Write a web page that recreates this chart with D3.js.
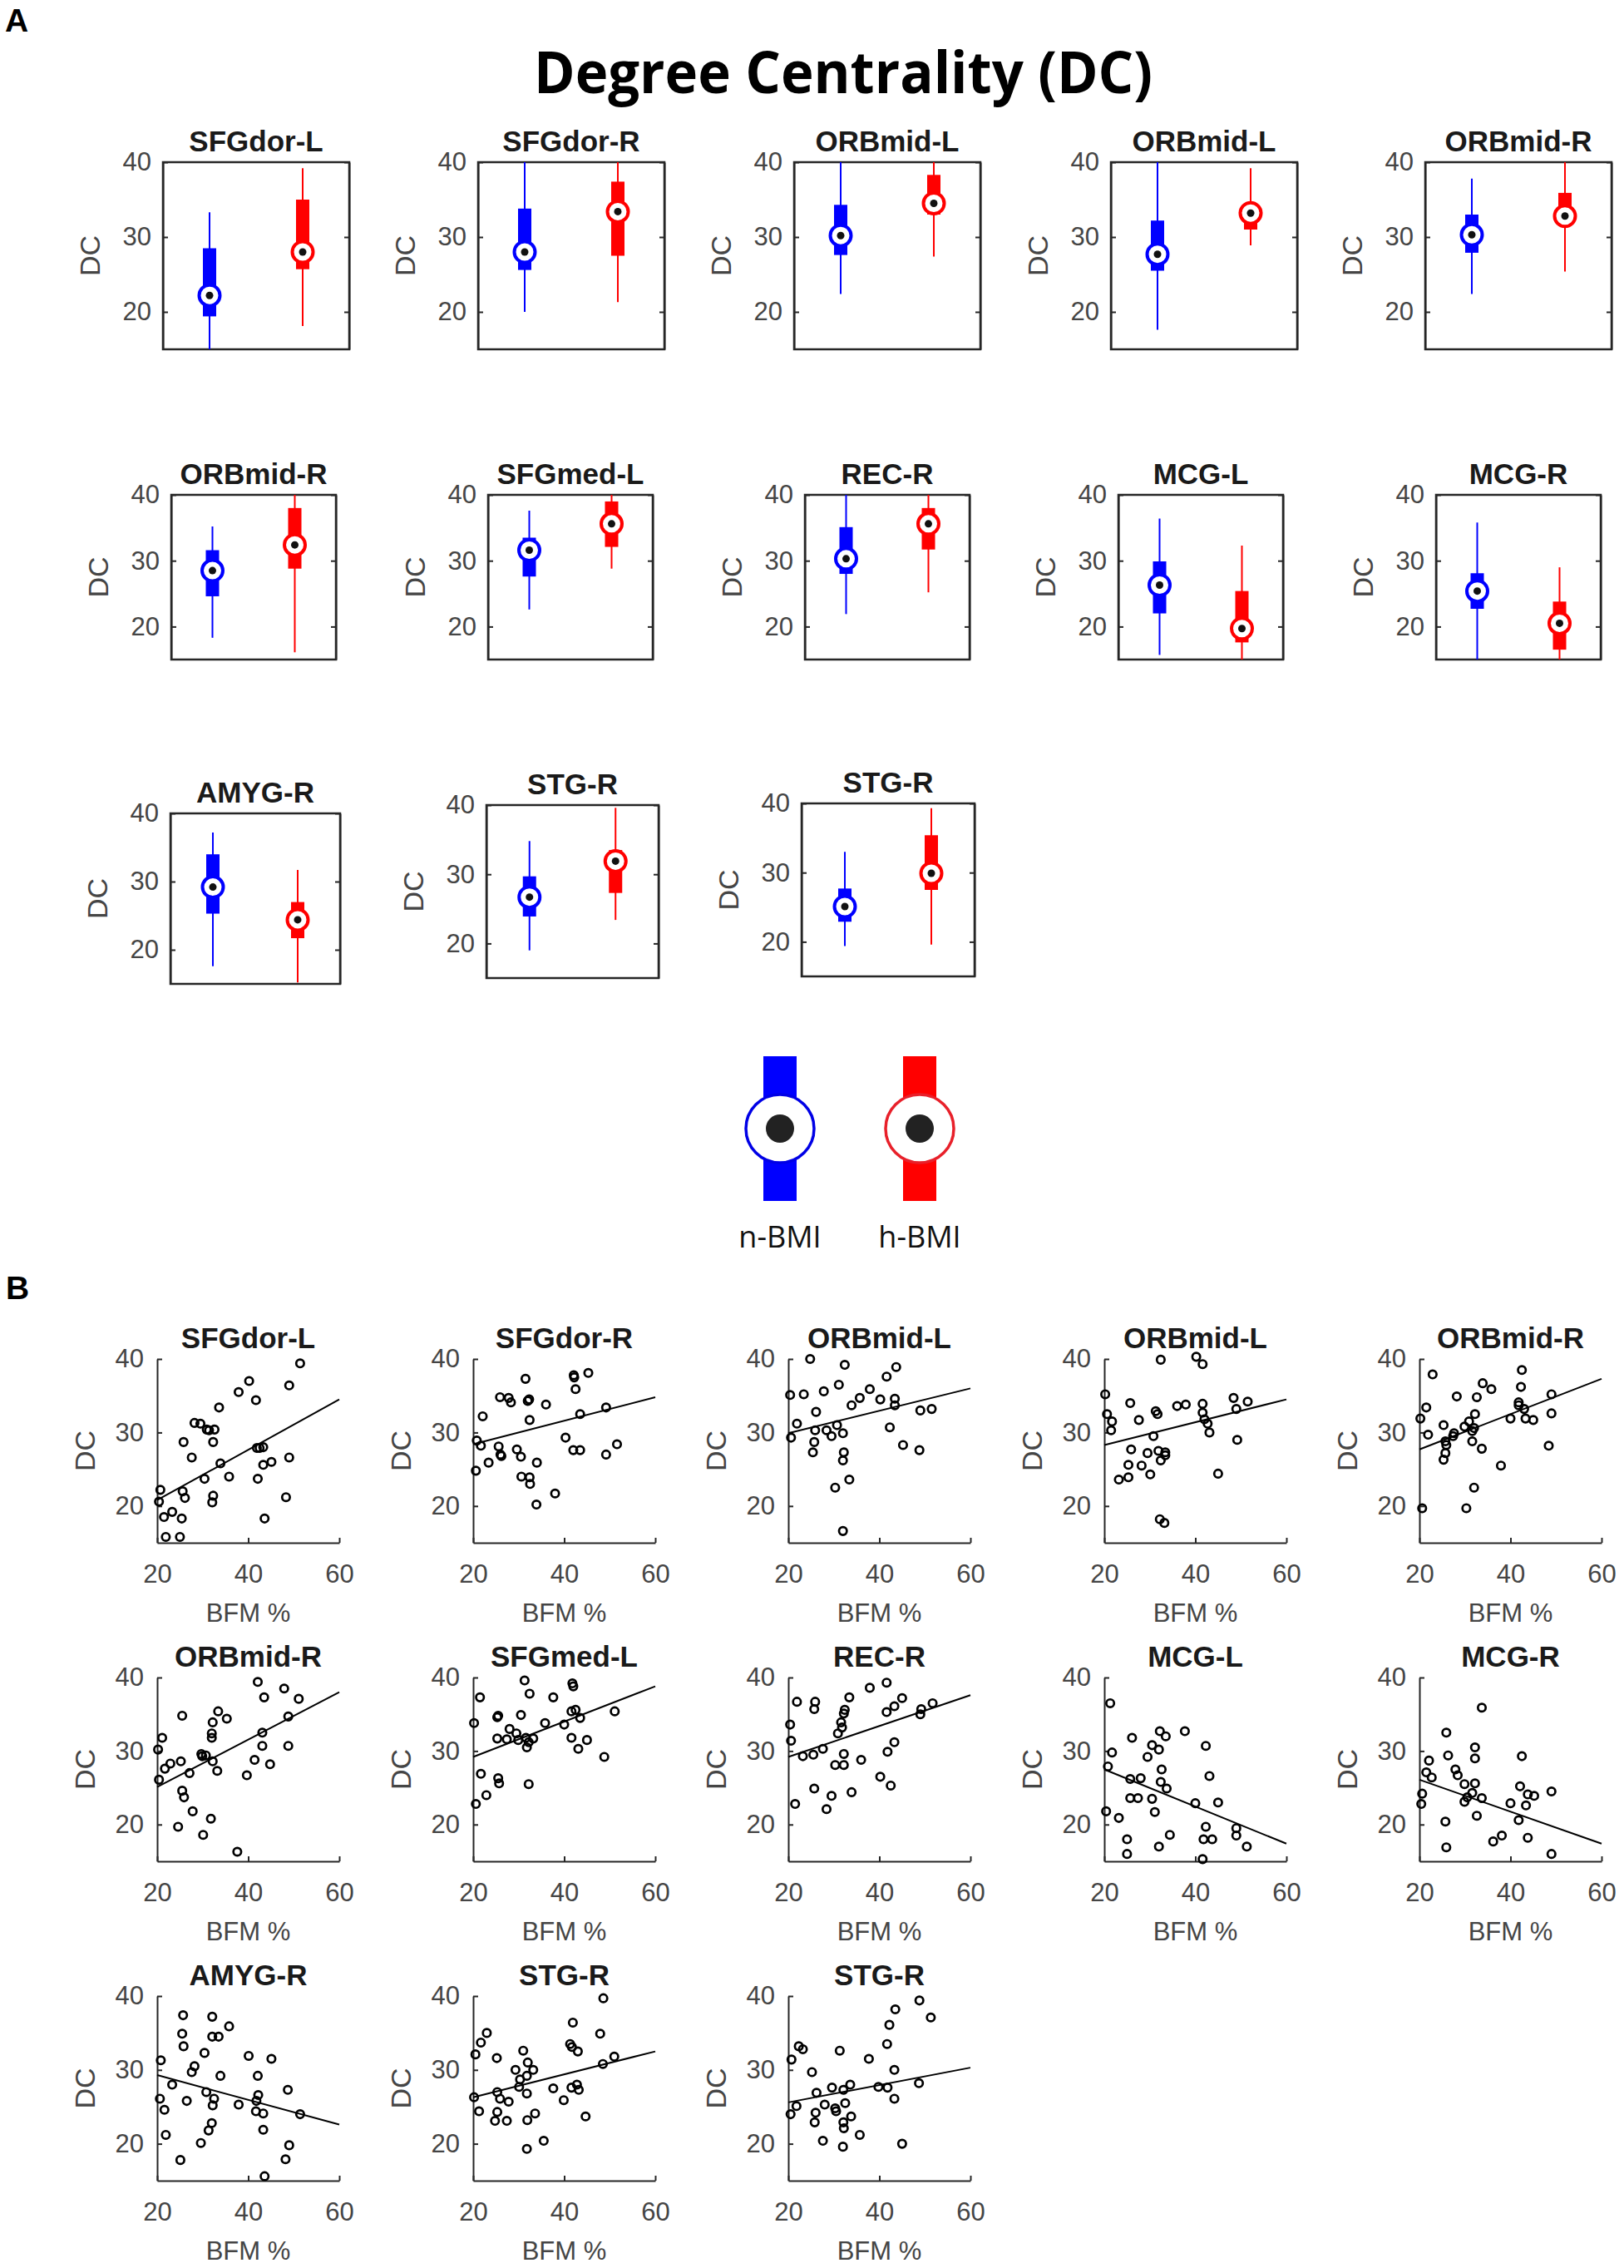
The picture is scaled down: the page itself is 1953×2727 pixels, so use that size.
<!DOCTYPE html>
<html>
<head>
<meta charset="utf-8">
<script src="https://cdn.jsdelivr.net/npm/d3@7"></script>
<style>
  body { margin: 0; background: #fff; }
</style>
</head>
<body>
<svg id="fig" width="1953" height="2727"></svg>
<script>
// region names, same order for the box panels (A) and the scatter panels (B)
const regions = ["SFGdor-L", "SFGdor-R", "ORBmid-L", "ORBmid-L", "ORBmid-R",
  "ORBmid-R", "SFGmed-L", "REC-R", "MCG-L", "MCG-R",
  "AMYG-R", "STG-R", "STG-R"];

const groups = ["n-BMI", "h-BMI"];
const groupColors = ["#0000ff", "#ff0000"];

// box stats: [lower whisker, q1, median, q3, upper whisker]
const nBmiBox = [
  [15.0, 19.4, 22.2, 28.5, 33.3],
  [20.0, 25.6, 28.0, 33.8, 40.0],
  [22.4, 27.6, 30.2, 34.3, 40.0],
  [17.6, 25.5, 27.7, 32.2, 40.0],
  [22.4, 27.9, 30.3, 33.0, 37.8],
  [18.3, 24.6, 28.5, 31.6, 35.2],
  [22.6, 27.6, 31.6, 33.5, 37.6],
  [21.9, 28.0, 30.3, 35.1, 40.0],
  [15.7, 22.0, 26.3, 29.9, 36.4],
  [15.0, 22.7, 25.4, 28.1, 35.8],
  [17.6, 25.3, 29.2, 34.0, 37.2],
  [19.0, 23.9, 26.7, 29.7, 34.8],
  [19.4, 22.9, 25.1, 27.7, 33.0]
];
const hBmiBox = [
  [18.1, 25.7, 28.0, 35.0, 39.2],
  [21.3, 27.5, 33.4, 37.4, 40.0],
  [27.4, 33.0, 34.5, 38.3, 40.0],
  [28.9, 31.0, 33.2, 34.3, 39.2],
  [25.4, 31.5, 32.8, 35.9, 40.0],
  [16.1, 28.8, 32.4, 38.0, 40.0],
  [28.8, 32.1, 35.6, 39.0, 40.0],
  [25.2, 31.7, 35.6, 38.0, 40.0],
  [15.0, 17.6, 19.7, 25.4, 32.3],
  [15.0, 16.5, 20.5, 23.8, 29.0],
  [15.2, 21.7, 24.4, 27.0, 31.7],
  [23.4, 27.3, 31.9, 33.5, 39.6],
  [19.6, 27.5, 29.9, 35.4, 39.3]
];

const dcDomain = [15, 40];
const dcTicks = [20, 30, 40];
const bfmDomain = [20, 60];
const bfmTicks = [20, 40, 60];

// scatter points [BFM %, DC]
const ptsSFGdorL = [[51.4,39.4],[40.2,37.0],[49.0,36.4],[37.9,35.5],[41.7,34.4],[33.6,33.4],[28.2,31.3],[29.5,31.2],[30.9,30.4],[32.6,30.4],[31.4,30.3],[25.8,28.7],[32.3,28.7],[41.9,27.9],[42.5,27.9],[43.3,28.0],[27.6,26.6],[49.0,26.6],[33.9,25.8],[45.1,26.0],[43.3,25.6],[30.4,23.7],[35.8,24.0],[42.1,23.7],[20.7,22.2],[25.6,22.0],[26.1,21.1],[32.3,21.4],[32.1,20.5],[48.3,21.2],[20.4,20.6],[23.3,19.2],[21.5,18.5],[25.4,18.3],[43.6,18.3],[21.9,15.8],[25.0,15.8]];
const ptsSFGdorR = [[45.3,38.1],[42.1,37.8],[42.2,37.5],[31.5,37.3],[42.5,35.9],[25.9,34.8],[27.8,34.7],[28.3,34.1],[32.0,34.3],[32.3,34.5],[36.0,33.8],[49.2,33.4],[43.5,32.5],[22.1,32.2],[32.4,31.7],[40.3,29.3],[20.8,28.9],[21.7,28.2],[51.6,28.4],[25.6,28.1],[29.6,27.7],[42.0,27.6],[43.5,27.6],[26.0,27.0],[26.2,26.8],[30.5,26.7],[49.2,27.0],[23.4,25.9],[34.0,25.9],[20.6,24.8],[30.6,24.0],[32.4,23.9],[32.5,23.0],[38.0,21.7],[33.9,20.2]];
const ptsORBmidL1 = [[24.8,40.0],[32.4,39.2],[43.7,38.9],[41.6,37.6],[31.1,36.5],[37.9,35.9],[20.4,35.1],[23.4,35.2],[27.8,35.6],[35.7,34.7],[40.2,34.5],[43.4,34.6],[43.4,33.7],[33.9,33.7],[51.5,33.2],[49.0,33.0],[26.1,32.8],[21.9,31.2],[30.7,31.0],[42.3,30.7],[25.9,30.3],[28.4,30.3],[32.0,29.9],[29.5,29.5],[20.6,29.3],[25.7,28.7],[45.2,28.3],[25.4,27.3],[48.8,27.6],[32.2,27.3],[32.0,26.2],[33.4,23.6],[30.3,22.5],[32.0,16.6]];
const ptsORBmidL2 = [[32.4,39.9],[40.2,40.3],[41.6,39.3],[20.2,35.2],[25.7,34.0],[48.4,34.7],[51.5,34.2],[41.6,33.9],[36.0,33.6],[37.9,33.8],[49.0,33.2],[31.3,32.9],[31.7,32.5],[41.6,32.7],[20.6,32.5],[21.7,31.5],[27.6,31.7],[42.0,31.8],[42.7,31.2],[21.5,30.3],[43.1,30.0],[30.8,29.5],[49.2,29.0],[25.9,27.7],[33.4,27.3],[31.9,27.5],[29.5,27.2],[33.4,26.9],[32.4,26.2],[25.3,25.6],[28.2,25.5],[30.1,24.3],[45.0,24.4],[25.3,23.9],[23.2,23.6],[32.2,18.2],[33.2,17.7]];
const ptsORBmidR1 = [[42.5,38.5],[22.9,37.9],[42.3,36.2],[33.9,36.7],[35.8,35.9],[28.2,34.9],[32.6,34.8],[49.0,35.2],[41.8,34.1],[41.8,33.7],[21.5,33.4],[43.0,33.2],[32.2,32.5],[49.0,32.6],[20.2,31.9],[40.0,31.9],[43.3,31.9],[45.0,31.7],[30.9,31.5],[25.3,31.0],[29.9,30.8],[32.0,30.6],[31.6,30.2],[27.6,29.9],[21.9,29.7],[27.4,29.5],[25.7,28.8],[25.9,28.3],[31.6,28.8],[48.4,28.2],[33.7,27.8],[25.7,27.2],[25.3,26.3],[37.9,25.5],[32.0,22.5],[20.6,19.7],[30.3,19.7]];
const ptsORBmidR2 = [[42.1,39.4],[47.9,38.5],[43.5,37.3],[51.1,37.1],[25.5,34.8],[33.4,35.4],[35.3,34.4],[32.2,33.9],[48.8,34.7],[32.0,32.4],[32.0,31.8],[43.1,32.5],[21.1,31.8],[43.1,30.7],[48.8,30.7],[20.2,30.2],[29.7,29.6],[30.7,29.4],[29.9,29.3],[25.2,28.6],[22.9,28.3],[21.7,27.6],[32.2,28.6],[41.4,28.8],[44.8,28.2],[33.2,27.3],[27.1,27.0],[39.7,26.7],[20.4,26.1],[25.5,24.6],[25.9,23.7],[27.8,21.8],[31.8,20.8],[24.6,19.7],[30.1,18.6],[37.6,16.3]];
const ptsSFGmedL = [[31.3,39.6],[41.8,39.2],[42.0,38.8],[21.5,37.3],[32.4,37.8],[37.6,37.3],[51.1,35.4],[42.5,35.6],[41.6,35.4],[25.3,34.6],[25.5,34.8],[30.5,34.9],[43.5,34.5],[20.2,33.8],[35.8,33.8],[40.0,33.6],[28.0,33.0],[29.5,32.4],[25.3,31.7],[41.6,31.8],[45.0,31.5],[27.4,31.6],[29.9,31.5],[31.6,31.8],[33.2,31.7],[32.2,31.2],[31.8,30.5],[43.1,30.3],[48.8,29.2],[21.7,26.9],[25.5,26.3],[25.7,25.6],[32.2,25.5],[22.9,24.0],[20.6,22.8]];
const ptsRECR = [[41.6,39.3],[37.9,38.6],[45.0,37.2],[33.4,37.3],[21.9,36.7],[25.9,36.7],[25.7,35.7],[51.7,36.5],[43.3,36.1],[41.6,35.3],[49.2,35.7],[49.0,35.0],[32.4,35.6],[32.2,35.1],[31.6,33.9],[31.8,33.2],[20.4,33.6],[30.9,32.4],[20.6,31.4],[43.3,31.2],[27.6,30.3],[25.5,29.5],[23.2,29.3],[32.2,29.6],[41.8,29.9],[36.0,28.8],[30.3,28.1],[32.2,28.1],[40.2,26.5],[42.5,25.3],[25.7,24.9],[33.9,24.4],[29.5,23.9],[21.5,22.8],[28.4,22.1]];
const ptsMCGL = [[21.3,36.5],[26.1,31.8],[21.7,29.8],[32.2,32.7],[33.5,32.0],[37.7,32.7],[30.5,30.8],[32.0,30.2],[42.3,30.7],[29.5,29.2],[20.8,27.9],[32.6,27.5],[25.7,26.2],[28.0,26.3],[32.4,25.8],[33.7,24.9],[43.1,26.6],[25.7,23.6],[27.4,23.6],[30.5,23.5],[40.0,22.9],[45.0,23.0],[20.4,21.8],[31.1,21.7],[23.2,20.9],[42.3,19.7],[49.0,19.5],[49.0,18.5],[34.4,18.6],[25.0,18.0],[41.8,18.0],[43.7,18.0],[32.0,17.0],[51.3,17.0],[25.0,16.0],[41.6,15.3]];
const ptsMCGR = [[33.7,35.9],[25.9,32.5],[32.2,30.5],[26.3,29.4],[42.5,29.3],[32.2,29.0],[22.1,28.7],[27.9,27.5],[21.5,27.1],[22.7,26.4],[28.4,26.7],[29.9,25.5],[32.2,25.6],[42.1,25.2],[43.8,24.1],[20.6,24.2],[31.6,24.3],[49.0,24.5],[30.5,23.7],[33.7,23.6],[45.2,23.9],[29.9,23.1],[20.4,22.8],[40.0,22.9],[43.4,22.6],[32.6,21.2],[41.8,20.6],[25.7,20.4],[38.1,18.5],[36.2,17.7],[43.8,18.2],[25.9,16.9],[49.0,16.0]];
const ptsAMYGR = [[25.7,37.4],[32.1,37.2],[35.8,35.9],[25.5,34.9],[32.1,34.5],[33.5,34.5],[25.8,33.2],[30.4,32.3],[40.1,31.9],[45.1,31.5],[20.8,31.3],[28.2,30.5],[27.6,29.7],[33.9,29.2],[42.1,29.2],[23.3,28.0],[48.7,27.3],[30.8,27.0],[42.2,26.6],[20.6,26.1],[32.5,26.1],[26.5,25.8],[41.8,25.8],[32.2,25.2],[37.9,25.3],[21.6,24.6],[41.7,24.4],[43.3,24.1],[51.4,24.0],[32.0,22.8],[31.3,21.8],[43.3,21.9],[21.9,21.2],[29.6,20.1],[49.0,19.8],[48.2,17.9],[25.1,17.8],[43.6,15.6]];
const ptsSTGR1 = [[48.6,39.7],[41.9,36.4],[23.0,35.0],[47.9,34.9],[21.7,33.7],[41.3,33.5],[41.7,33.1],[43.0,32.5],[31.0,32.6],[20.5,32.1],[51.0,31.8],[25.2,31.6],[32.0,31.0],[48.5,30.8],[33.2,30.0],[29.3,30.0],[31.8,29.2],[30.3,28.7],[30.1,27.7],[37.6,27.5],[41.6,27.6],[42.8,28.0],[43.2,27.3],[25.3,27.0],[31.8,26.8],[20.2,26.3],[25.9,26.1],[27.8,25.7],[39.9,25.9],[21.3,24.4],[25.3,24.3],[33.6,24.1],[44.7,23.7],[24.8,23.1],[27.4,23.1],[31.9,23.2],[35.5,20.4],[31.8,19.3]];
const ptsSTGR2 = [[48.8,39.4],[43.5,38.2],[51.3,37.1],[42.2,36.1],[41.7,33.5],[22.3,33.2],[23.2,32.8],[31.3,32.6],[37.7,31.5],[20.7,31.4],[25.2,29.7],[43.3,30.0],[33.6,28.0],[29.6,27.6],[39.8,27.7],[41.8,27.6],[48.7,28.2],[32.1,27.3],[26.2,26.9],[43.3,26.1],[21.8,25.1],[28.0,25.3],[32.5,25.5],[30.3,24.8],[30.5,24.4],[26.0,24.2],[20.5,24.0],[33.8,23.7],[25.8,22.9],[32.1,22.9],[32.2,22.1],[35.7,21.2],[27.6,20.4],[45.0,20.0],[32.0,19.6]];

const scatterSets = [ptsSFGdorL, ptsSFGdorR, ptsORBmidL1, ptsORBmidL2, ptsORBmidR1,
  ptsORBmidR2, ptsSFGmedL, ptsRECR, ptsMCGL, ptsMCGR,
  ptsAMYGR, ptsSTGR1, ptsSTGR2];

// fitted line, DC value at BFM 20 and at BFM 60
const fitAt20 = [20.8, 28.4, 29.9, 28.3, 27.7, 25.1, 29.2, 29.2, 27.5, 26.1, 29.3, 26.3, 25.6];
const fitAt60 = [34.5, 34.8, 36.0, 34.5, 37.3, 38.0, 38.8, 37.6, 17.4, 17.4, 22.6, 32.5, 30.3];

// ---------------------------------------------------------------
const svg = d3.select("#fig");
const font = '"Liberation Sans", Arial, Helvetica, sans-serif';
const axisColor = "#262626";
const tickColor = "#454545";

function styleAxis(g) {
  g.attr("font-family", font).attr("font-size", 31);
  g.select(".domain").attr("stroke", axisColor).attr("stroke-width", 2);
  g.selectAll(".tick line").attr("stroke", axisColor).attr("stroke-width", 2);
  g.selectAll(".tick text").attr("fill", tickColor);
}

function panelTitle(cx, y, txt) {
  svg.append("text")
    .attr("x", cx).attr("y", y)
    .attr("text-anchor", "middle")
    .attr("font-family", font).attr("font-weight", "bold")
    .attr("font-size", 35).attr("fill", "#1a1a1a")
    .text(txt);
}

function dcLabel(cx, cy) {
  svg.append("text")
    .attr("transform", `translate(${cx},${cy}) rotate(-90)`)
    .attr("dy", "0.35em")
    .attr("text-anchor", "middle")
    .attr("font-family", font).attr("font-size", 34)
    .attr("fill", tickColor)
    .text("DC");
}

// panel letters and main title
svg.append("text").attr("x", 6).attr("y", 38)
  .attr("font-family", font).attr("font-weight", "bold").attr("font-size", 39)
  .text("A");
svg.append("text").attr("x", 7).attr("y", 1562)
  .attr("font-family", font).attr("font-weight", "bold").attr("font-size", 39)
  .text("B");
svg.append("text").attr("x", 642).attr("y", 112)
  .attr("font-family", '"Open Sans", sans-serif').attr("font-weight", 700)
  .attr("font-size", 70)
  .attr("textLength", 744).attr("lengthAdjust", "spacingAndGlyphs")
  .text("Degree Centrality (DC)");

// ---------------- A: box summaries ----------------
const boxPanels = [];
[196, 575, 955, 1336, 1714].forEach(l => boxPanels.push({ left: l, width: 224, top: 195, bottom: 420 }));
[206, 587, 968, 1345, 1727].forEach(l => boxPanels.push({ left: l, width: 198, top: 595, bottom: 793 }));
boxPanels.push({ left: 205, width: 204, top: 978, bottom: 1183 });
boxPanels.push({ left: 585, width: 207, top: 968, bottom: 1176 });
boxPanels.push({ left: 964, width: 208, top: 966, bottom: 1174 });

boxPanels.forEach((p, i) => {
  const y = d3.scaleLinear().domain(dcDomain).range([p.bottom, p.top]);
  const x = d3.scalePoint().domain(groups).range([p.left, p.left + p.width]).padding(0.5);
  const g = svg.append("g");

  g.append("rect")
    .attr("x", p.left).attr("y", p.top)
    .attr("width", p.width).attr("height", p.bottom - p.top)
    .attr("fill", "none").attr("stroke", axisColor).attr("stroke-width", 2.5);

  const ax = g.append("g").attr("transform", `translate(${p.left},0)`)
    .call(d3.axisLeft(y).tickValues(dcTicks).tickSize(-6).tickSizeOuter(0).tickPadding(14));
  styleAxis(ax);
  const axR = g.append("g").attr("transform", `translate(${p.left + p.width},0)`)
    .call(d3.axisRight(y).tickValues(dcTicks).tickSize(-6).tickSizeOuter(0).tickFormat(""));
  styleAxis(axR);

  [nBmiBox[i], hBmiBox[i]].forEach((s, k) => {
    const cx = x(groups[k]);
    const col = groupColors[k];
    g.append("line")
      .attr("x1", cx).attr("x2", cx)
      .attr("y1", y(s[0])).attr("y2", y(s[4]))
      .attr("stroke", col).attr("stroke-width", 2);
    g.append("rect")
      .attr("x", cx - 8).attr("width", 16)
      .attr("y", y(s[3])).attr("height", y(s[1]) - y(s[3]))
      .attr("fill", col);
    g.append("circle")
      .attr("cx", cx).attr("cy", y(s[2])).attr("r", 12.5)
      .attr("fill", "#fff").attr("stroke", col).attr("stroke-width", 4);
    g.append("circle")
      .attr("cx", cx).attr("cy", y(s[2])).attr("r", 4.5)
      .attr("fill", "#111");
  });

  panelTitle(p.left + p.width / 2, p.top - 13, regions[i]);
  dcLabel(p.left - 88, (p.top + p.bottom) / 2);
});

// legend
const legendX = d3.scalePoint().domain(groups).range([938, 1106]);
groups.forEach((gname, k) => {
  const cx = legendX(gname);
  svg.append("rect")
    .attr("x", cx - 20).attr("y", 1270)
    .attr("width", 40).attr("height", 174)
    .attr("fill", groupColors[k]);
  svg.append("circle")
    .attr("cx", cx).attr("cy", 1357).attr("r", 41)
    .attr("fill", "#fff")
    .attr("stroke", k === 0 ? "#0000e6" : "#e8202a").attr("stroke-width", 3.5);
  svg.append("circle")
    .attr("cx", cx).attr("cy", 1357).attr("r", 17)
    .attr("fill", "#222");
  svg.append("text")
    .attr("x", cx).attr("y", 1500)
    .attr("text-anchor", "middle")
    .attr("font-family", '"Open Sans", sans-serif').attr("font-size", 36)
    .attr("fill", "#111")
    .text(gname);
});

// ---------------- B: scatter plots ----------------
const scLefts = [189, 569, 948, 1328, 1707];
const scTops = [1634, 2017, 2400];
const scBottoms = [1855, 2238, 2622];
const scWidth = 219;

scatterSets.forEach((pts, i) => {
  const r = Math.floor(i / 5), c = i % 5;
  const left = scLefts[c], top = scTops[r], bottom = scBottoms[r];
  const x = d3.scaleLinear().domain(bfmDomain).range([left, left + scWidth]);
  const y = d3.scaleLinear().domain(dcDomain).range([bottom, top]);
  const g = svg.append("g");

  const ay = g.append("g").attr("transform", `translate(${left},0)`)
    .call(d3.axisLeft(y).tickValues(dcTicks).tickSize(-6).tickSizeOuter(0).tickPadding(16));
  styleAxis(ay);
  const axb = g.append("g").attr("transform", `translate(0,${bottom})`)
    .call(d3.axisBottom(x).tickValues(bfmTicks).tickSize(-6).tickSizeOuter(0).tickPadding(26));
  styleAxis(axb);

  g.selectAll("circle.pt").data(pts).join("circle")
    .attr("class", "pt")
    .attr("cx", d => x(d[0])).attr("cy", d => y(d[1]))
    .attr("r", 4.7)
    .attr("fill", "none").attr("stroke", "#000").attr("stroke-width", 2.7);

  const line = d3.line().x(d => x(d[0])).y(d => y(d[1]));
  g.append("path")
    .attr("d", line([[bfmDomain[0], fitAt20[i]], [bfmDomain[1], fitAt60[i]]]))
    .attr("stroke", "#000").attr("stroke-width", 2).attr("fill", "none");

  panelTitle(left + scWidth / 2, top - 13, regions[i]);
  dcLabel(left - 87, (top + bottom) / 2);
  svg.append("text")
    .attr("x", left + scWidth / 2).attr("y", bottom + 95)
    .attr("text-anchor", "middle")
    .attr("font-family", font).attr("font-size", 31)
    .attr("fill", tickColor)
    .text("BFM %");
});
</script>
</body>
</html>
